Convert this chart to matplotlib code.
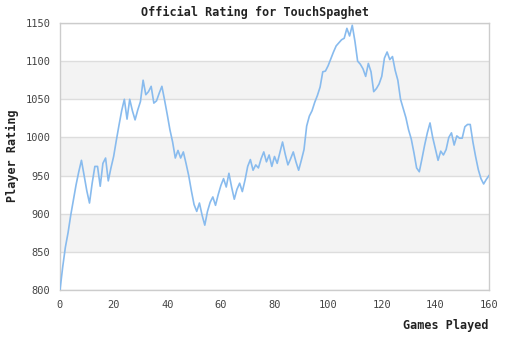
import matplotlib
matplotlib.use("Agg")
import matplotlib.pyplot as plt
import numpy as np

title = "Official Rating for TouchSpaghet"
xlabel = "Games Played"
ylabel = "Player Rating"

ratings = [
    800, 830, 856, 875, 898, 918, 938, 955, 970, 950,
    930, 914, 940, 962, 962, 936, 966, 973, 943, 960,
    975, 996, 1016, 1035, 1050, 1024, 1050, 1035, 1023, 1036,
    1047, 1075, 1056, 1060, 1067, 1045, 1048, 1058, 1067, 1049,
    1030, 1010, 994, 973, 983, 973, 981, 966, 950, 930,
    912, 903, 914, 898, 885, 903, 915, 922, 911, 925,
    937, 946, 935, 953, 935, 919, 932, 940, 929, 944,
    962, 971, 957, 964, 960, 972, 981, 968, 977, 962,
    975, 966, 980, 994, 978, 964, 972, 981, 968, 957,
    970, 984, 1015, 1028, 1035, 1046, 1055, 1066, 1086, 1087,
    1094, 1103, 1112, 1120, 1124, 1128, 1130, 1143, 1133, 1147,
    1126, 1100, 1096, 1090, 1080, 1097, 1086, 1060, 1064, 1070,
    1080, 1104, 1112, 1102, 1106, 1088, 1075, 1050, 1038, 1026,
    1010, 998, 980, 960, 955, 972, 990, 1006, 1019, 1000,
    985, 970, 982, 977, 984, 1000, 1006, 990, 1002, 999,
    999, 1014, 1017, 1017, 994, 975, 958, 946, 939, 945,
    950,
]
games = list(range(len(ratings)))

x_ticks = [0, 20, 40, 60, 80, 100, 120, 140, 160]
y_ticks = [800, 850, 900, 950, 1000, 1050, 1100, 1150]

mono = "DejaVu Sans Mono"

fig = plt.figure(figsize=(5.1, 3.4), dpi=100)
ax = fig.add_axes([60/510, 1-290/340, (489-60)/510, (290-23)/340])

# alternating bands
for i in range(len(y_ticks) - 1):
    if i % 2 == 1:
        ax.axhspan(y_ticks[i], y_ticks[i+1], color="#f3f3f3", zorder=0, lw=0)
for y in y_ticks:
    ax.axhline(y, color="#dddddd", lw=1, zorder=1)

ax.plot(games, ratings, color="#88bbee", lw=1.2, zorder=3)

ax.set_xlim(0, 160)
ax.set_ylim(800, 1150)
ax.set_xticks(x_ticks)
ax.set_yticks(y_ticks)
ax.tick_params(length=0, labelsize=7.5, labelcolor="#444444", pad=7)
for lab in ax.get_xticklabels() + ax.get_yticklabels():
    lab.set_fontfamily(mono)
for s in ax.spines.values():
    s.set_color("#cccccc")
    s.set_linewidth(1)

fig.text(0.5, 1-12/340, title, ha="center", va="center", fontsize=8.5,
         fontweight="bold", family=mono, color="#222222")
fig.text(12/510, 1-156/340, ylabel, ha="center", va="center", rotation=90,
         fontsize=8.5, fontweight="bold", family=mono, color="#222222")
fig.text(489/510, 1-326/340, xlabel, ha="right", va="center",
         fontsize=8.5, fontweight="bold", family=mono, color="#222222")

fig.savefig("out.png", dpi=100)
